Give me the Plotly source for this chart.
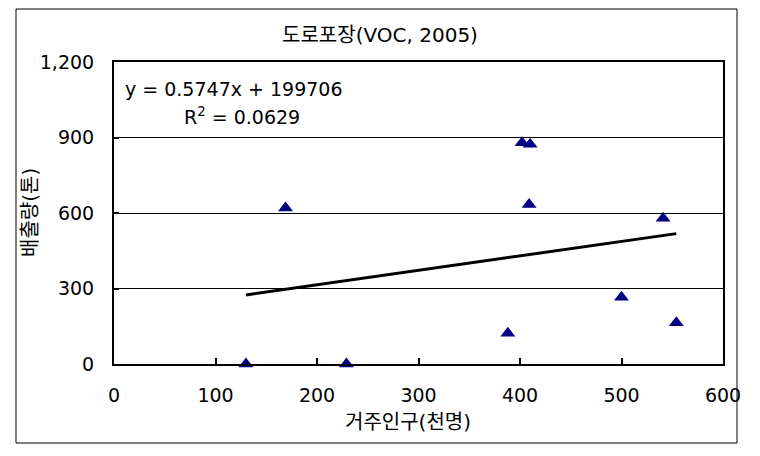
import plotly.graph_objects as go

# Data
population = [130, 169, 229, 388, 402, 410, 409, 500, 541, 554]   # 거주인구(천명)
emission = [0, 620, 0, 122, 879, 873, 634, 265, 579, 164]          # 배출량(톤)
trend_slope = 0.5747
trend_intercept = 199.706
x_ticks = [0, 100, 200, 300, 400, 500, 600]
y_ticks = [0, 300, 600, 900, 1200]

FONT = "DejaVu Sans, Noto Sans CJK KR, sans-serif"

# the page body has an 8px margin, so the figure starts at (8, 8)
OFF = 8
W, H = 760 - 2 * OFF, 456 - 2 * OFF
PL, PT, PR, PB = 114, 62, 723, 364          # plot area in page pixels
L, T = PL - OFF, PT - OFF
R, B = (OFF + W) - PR, (OFF + H) - PB
pw, ph = PR - PL, PB - PT

def px_x(p):
    return (p - PL) / pw

def px_y(p):
    return (PB - p) / ph

x_min, x_max = min(population), max(population)
trend_x = [x_min, x_max]
trend_y = [trend_slope * v + trend_intercept for v in trend_x]

fig = go.Figure()
fig.add_trace(go.Scatter(
    x=trend_x, y=trend_y, mode="lines",
    line=dict(color="black", width=3), showlegend=False, hoverinfo="skip"))
fig.add_trace(go.Scatter(
    x=population, y=emission, mode="markers",
    marker=dict(symbol="triangle-up", size=13, color="#000080"),
    cliponaxis=False, showlegend=False))

fig.update_layout(
    width=W, height=H,
    margin=dict(l=L, r=R, t=T, b=B, autoexpand=False),
    paper_bgcolor="white", plot_bgcolor="white",
    font=dict(family=FONT, size=19, color="black"),
    title=dict(text="도로포장(VOC, 2005)", x=0.5, xref="container", xanchor="center",
               y=1 - (35 - OFF) / H, yref="container", yanchor="middle",
               font=dict(family=FONT, size=20, color="black")),
    xaxis=dict(range=[0, 600], tickvals=x_ticks, showgrid=False, zeroline=False,
               showline=True, linecolor="black", linewidth=2, mirror=True,
               ticks="inside", ticklen=6, tickwidth=2, tickcolor="black",
               ticklabelstandoff=13, automargin=False),
    yaxis=dict(range=[0, 1200], tickvals=y_ticks, tickformat=",d",
               showgrid=True, gridcolor="black", gridwidth=1, zeroline=False,
               showline=True, linecolor="black", linewidth=2, mirror=True,
               ticks="inside", ticklen=5, tickwidth=2, tickcolor="black",
               ticklabelstandoff=14, automargin=False),
    shapes=[dict(type="rect", xref="paper", yref="paper",
                 x0=px_x(16), x1=px_x(737), y0=px_y(443), y1=px_y(9),
                 line=dict(color="black", width=1), layer="below")],
    annotations=[
        dict(text="y = 0.5747x + 199706", xref="paper", yref="paper",
             x=px_x(123), y=px_y(89), xanchor="left", yanchor="middle",
             showarrow=False, font=dict(family=FONT, size=19, color="black")),
        dict(text="R<sup>2</sup> = 0.0629", xref="paper", yref="paper",
             x=px_x(182), y=px_y(116), xanchor="left", yanchor="middle",
             showarrow=False, font=dict(family=FONT, size=19, color="black")),
        dict(text="거주인구(천명)", xref="paper", yref="paper",
             x=px_x(408), y=px_y(422), xanchor="center", yanchor="middle",
             showarrow=False, font=dict(family=FONT, size=20, color="black")),
        dict(text="배출량(톤)", xref="paper", yref="paper", textangle=-90,
             x=px_x(30), y=px_y(213), xanchor="center", yanchor="middle",
             showarrow=False, font=dict(family=FONT, size=20, color="black")),
    ],
)

fig.write_html("out.html")
